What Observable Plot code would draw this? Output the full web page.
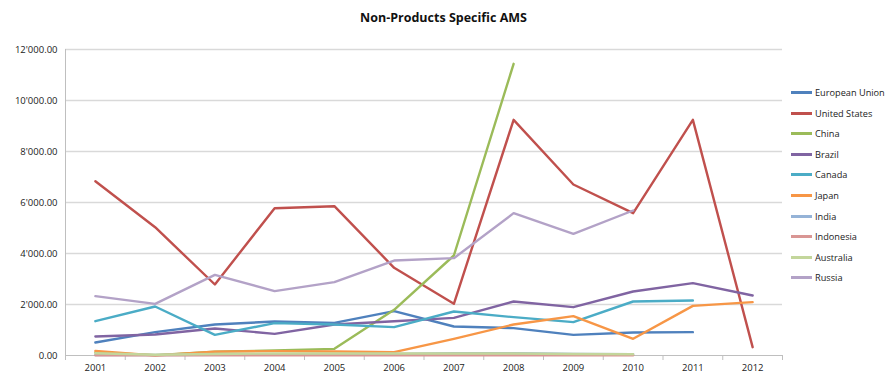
<!DOCTYPE html>
<html>
<head>
<meta charset="utf-8">
<script src="https://cdn.jsdelivr.net/npm/d3@7"></script>
<script src="https://cdn.jsdelivr.net/npm/@observablehq/plot@0.6"></script>
<style>
  html, body { margin: 0; padding: 0; background: #fff; }
  #wrap { position: relative; width: 887px; height: 373px; overflow: hidden; font-family: "Open Sans", "Noto Sans", sans-serif; }
  #title { height: 35px; line-height: 36px; text-align: center; font-weight: bold; font-size: 12.5px; color: #111; width: 887px; }
  #legend { position: absolute; left: 0; top: 0; font-size: 9.2px; color: #222; }
  .item { position: absolute; height: 14px; display: flex; align-items: center; white-space: nowrap; }
  .sw { width: 21px; height: 3px; margin-right: 3px; }
</style>
</head>
<body>
<div id="wrap">
  <div id="title">Non-Products Specific AMS</div>
  <div id="chart"></div>
  <div id="legend"></div>
</div>
<script>
const years = [2001, 2002, 2003, 2004, 2005, 2006, 2007, 2008, 2009, 2010, 2011, 2012];
const seriesNames = ["European Union", "United States", "China", "Brazil", "Canada", "Japan", "India", "Indonesia", "Australia", "Russia"];
const seriesColors = ["#4F81BD", "#C0504D", "#9BBB59", "#8064A2", "#4BACC6", "#F79646", "#95B3D7", "#D99694", "#C3D69B", "#B3A2C7"];

const europeanUnion = [510, 915, 1216, 1333, 1281, 1739, 1137, 1072, 810, 902, 915, null];
const unitedStates  = [6835, 5030, 2784, 5777, 5855, 3439, 2027, 9242, 6706, 5581, 9242, 327];
const china         = [120, 15, 150, 196, 261, 1791, 3922, 11438, null, null, null, null];
const brazil        = [745, 823, 1060, 850, 1216, 1346, 1477, 2118, 1895, 2510, 2837, 2353];
const canada        = [1346, 1922, 810, 1268, 1216, 1111, 1725, 1503, 1307, 2118, 2157, null];
const japan         = [180, 0, 150, 170, 157, 131, 654, 1216, 1542, 654, 1948, 2092];
const india         = [20, 20, 30, 40, 50, 60, 90, 90, 60, 50, null, null];
const indonesia     = [5, 5, 5, 5, 5, 5, 5, 5, 5, 5, null, null];
const australia     = [90, 30, 60, 80, 80, 80, 80, 80, 60, 50, null, null];
const russia        = [2327, 2026, 3163, 2523, 2876, 3725, 3817, 5582, 4771, 5686, null, null];

const yTicks = [0, 2000, 4000, 6000, 8000, 10000, 12000];

const seriesValues = [europeanUnion, unitedStates, china, brazil, canada, japan, india, indonesia, australia, russia];
const rows = [];
seriesNames.forEach((name, i) => {
  years.forEach((yr, j) => {
    const v = seriesValues[i][j];
    if (v != null) rows.push({series: name, year: yr, value: v});
  });
});
const boundaries = [years[0] - 0.5, ...years.map(y => y + 0.5)];

const fmt = v => d3.format(",.2f")(v).replace(/,/g, "'");

const chart = Plot.plot({
  width: 790,
  height: 338,
  marginLeft: 65,
  marginRight: 8,
  marginTop: 14,
  marginBottom: 18,
  style: {fontFamily: "'Open Sans', 'Noto Sans', sans-serif", fontSize: "9.5px", color: "#222", background: "#fff"},
  x: {domain: [years[0] - 0.5, years[years.length - 1] + 0.5], axis: null, label: null},
  y: {domain: [0, 12000], axis: null, label: null},
  color: {domain: seriesNames, range: seriesColors},
  marks: [
    Plot.ruleY(yTicks.filter(d => d > 0), {stroke: "#d9d9d9", strokeWidth: 1.3}),
    Plot.ruleX([years[0] - 0.5], {stroke: "#bfbfbf", strokeWidth: 1}),
    Plot.ruleY([0], {stroke: "#bfbfbf", strokeWidth: 1.2}),
    Plot.axisX({ticks: years, tickFormat: d => String(d), tickSize: 0, tickPadding: 9, label: null}),
    Plot.axisX({ticks: boundaries, tickFormat: () => "", tickSize: 5, stroke: "#bfbfbf", label: null}),
    Plot.axisY({ticks: yTicks, tickFormat: fmt, tickSize: 0, tickPadding: 8, label: null}),
    Plot.line(rows, {x: "year", y: "value", z: "series", stroke: "series", strokeWidth: 2.4, curve: "linear"})
  ]
});
document.getElementById("chart").appendChild(chart);

const legend = document.getElementById("legend");
seriesNames.forEach((name, i) => {
  const it = document.createElement("div");
  it.className = "item";
  it.style.left = "791px";
  it.style.top = Math.round(85 + i * 20.6) + "px";
  const sw = document.createElement("div");
  sw.className = "sw";
  sw.style.background = seriesColors[i];
  const t = document.createElement("span");
  t.textContent = name;
  it.appendChild(sw);
  it.appendChild(t);
  legend.appendChild(it);
});
</script>
</body>
</html>
